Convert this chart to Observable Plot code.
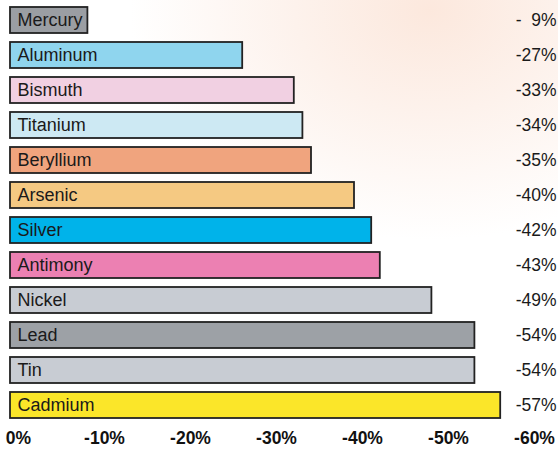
<!DOCTYPE html>
<html>
<head>
<meta charset="utf-8">
<script src="https://cdn.jsdelivr.net/npm/d3@7"></script>
<script src="https://cdn.jsdelivr.net/npm/@observablehq/plot@0.6"></script>
<style>
  html, body { margin: 0; padding: 0; }
  body {
    width: 558px; height: 451px; overflow: hidden;
    background: radial-gradient(ellipse 300px 230px at 430px 10px, #fce8dd 0%, #fdf2ec 45%, #ffffff 100%);
    font-family: "Liberation Sans", Arial, sans-serif;
  }
  #chart svg { background: transparent !important; }
</style>
</head>
<body>
<div id="chart"></div>
<script>
const metals = ["Mercury", "Aluminum", "Bismuth", "Titanium", "Beryllium", "Arsenic", "Silver", "Antimony", "Nickel", "Lead", "Tin", "Cadmium"];
const changes = [-9, -27, -33, -34, -35, -40, -42, -43, -49, -54, -54, -57];
const colors = ["#9b9ea3", "#8fd5ee", "#f1d0e2", "#cde9f3", "#f0a47e", "#f5c982", "#00b3ea", "#ec80b2", "#c8ccd3", "#9da1a6", "#c8ccd3", "#fbe629"];
const xTicks = [0, -10, -20, -30, -40, -50, -60];

const data = metals.map((m, i) => ({metal: m, value: changes[i], color: colors[i]}));
const fmtVal = v => v > -10 ? `-\u2007${-v}%` : `${v}%`;

const chart = Plot.plot({
  width: 558,
  height: 451,
  marginLeft: 10,
  marginRight: 32,
  marginTop: 2.5,
  marginBottom: 29.5,
  style: {background: "transparent", fontFamily: "'Liberation Sans', Arial, sans-serif"},
  x: {domain: [0, -60], axis: null},
  y: {domain: metals, axis: null, paddingInner: 0.26, paddingOuter: 0.1},
  color: {type: "identity"},
  marks: [
    Plot.barX(data, {x1: 0, x2: "value", y: "metal", fill: "color", stroke: "#222", strokeWidth: 1.8}),
    Plot.text(data, {x: 0, y: "metal", text: "metal", textAnchor: "start", dx: 7, fontSize: 18, fill: "#1a1a1a"}),
    Plot.text(data, {y: "metal", text: d => fmtVal(d.value), frameAnchor: "right", textAnchor: "end", dx: 30, fontSize: 17.5, fill: "#1a1a1a"}),
    Plot.axisX({ticks: xTicks, tickSize: 0, tickPadding: 10, tickFormat: d => `${d}%`, textAnchor: "middle", dx: 8, fontSize: 17.5, fontWeight: "bold", fill: "#111", label: null})
  ]
});
document.getElementById("chart").appendChild(chart);
</script>
</body>
</html>
